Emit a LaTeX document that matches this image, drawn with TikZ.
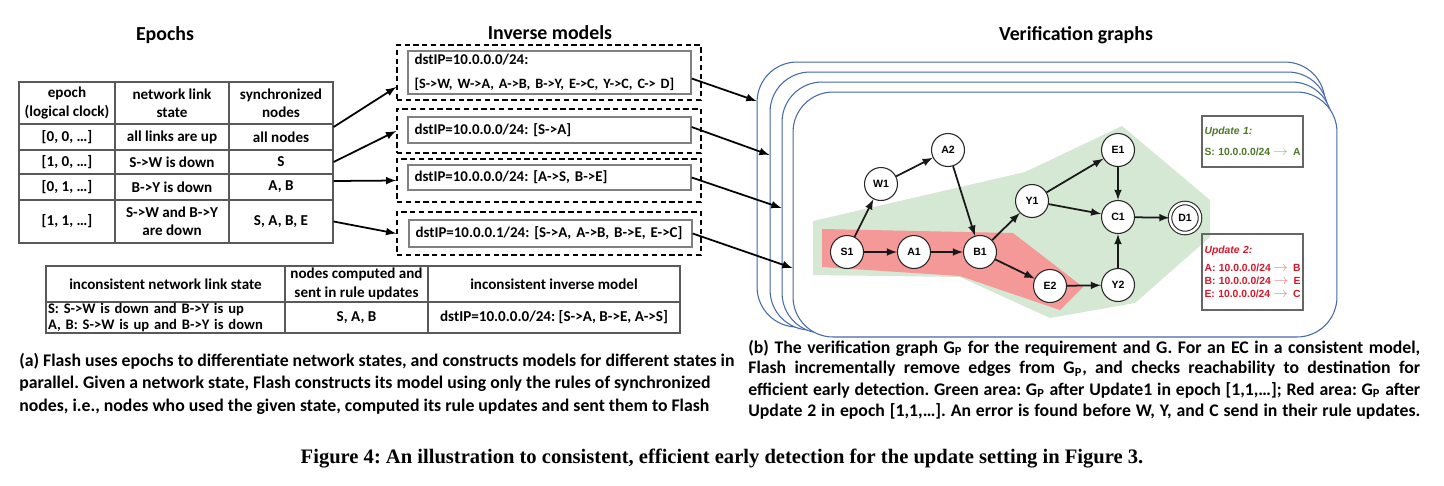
\documentclass[tikz,border=0pt]{standalone}
\usepackage{fontspec}
\setmainfont{Carlito}
\newfontfamily\grfont{Liberation Sans}
\newfontfamily\capfont{Liberation Serif}
\usepackage{xcolor}
\usetikzlibrary{shapes, positioning, calc}

\definecolor{stackblue}{RGB}{70,104,172}
\definecolor{areagreen}{RGB}{213,232,212}
\definecolor{areared}{RGB}{245,152,152}
\definecolor{updgreen}{RGB}{78,120,40}
\definecolor{updred}{RGB}{214,24,44}

\newcommand{\updline}[2]{\makebox[\linewidth][l]{#1\hfill{\color{.!50}\fontsize{8}{8}\selectfont$\rightarrow$}\hspace{1mm}#2}}

\begin{document}
\frenchspacing
\begin{tikzpicture}[x=0.02cm, y=-0.02cm, >=latex]
\tikzstyle{head}=[font=\fontsize{11.3}{13}\selectfont\bfseries]
\tikzstyle{cell}=[rectangle, draw=black!65, line width=0.7pt, inner sep=0pt, align=center, font=\fontsize{8.6}{10.4}\selectfont\bfseries]
\tikzstyle{dashbox}=[rectangle, draw, dashed, line width=0.9pt, dash pattern=on 3pt off 2pt, minimum width=6.08cm]
\tikzstyle{model}=[rectangle, draw=black!50, line width=0.8pt, inner xsep=0.13cm, inner ysep=0pt, text width=5.4cm, align=left, font=\fontsize{8.5}{10.3}\selectfont\bfseries]
\tikzstyle{link}=[->, line width=1pt]
\tikzstyle{stack}=[rectangle, draw=stackblue, line width=0.6pt, fill=white, rounded corners=0.8cm]
\tikzstyle{vert}=[circle, draw=black!85, line width=0.6pt, fill=white, minimum size=0.66cm, inner sep=0pt, font=\grfont\bfseries\fontsize{6}{6}\selectfont]
\tikzstyle{gedge}=[->, line width=1pt, black!90]
\tikzstyle{upd}=[rectangle, draw=black!60, line width=0.8pt, inner xsep=0.05cm, text width=1.92cm, align=left, font=\grfont\bfseries\fontsize{5.9}{7.4}\selectfont]
\tikzstyle{capt}=[anchor=west, inner sep=0pt, font=\fontsize{10.1}{12}\selectfont\bfseries]

\useasboundingbox (0,0) rectangle (1444,485);

% titles
\node[head] (th1) at (165,35) {Epochs};
\node[head] (th2) at (550,33) {Inverse models};
\node[head] (th3) at (1076,35) {Verification graphs};

% epoch table
\node[cell, minimum width=1.92cm, minimum height=0.84cm] (ep0) at (67,103) {epoch\\(logical clock)};
\node[cell, minimum width=2.28cm, minimum height=0.84cm] (ls0) at (172,103) {network link\\state};
\node[cell, minimum width=2.08cm, minimum height=0.84cm] (sn0) at (281,103) {synchronized\\nodes};
\node[cell, minimum width=1.92cm, minimum height=0.52cm] (ep1) at (67,137) {[0, 0, …]};
\node[cell, minimum width=2.28cm, minimum height=0.52cm] (ls1) at (172,137) {all links are up};
\node[cell, minimum width=2.08cm, minimum height=0.52cm] (sn1) at (281,137) {all nodes};
\node[cell, minimum width=1.92cm, minimum height=0.48cm] (ep2) at (67,162) {[1, 0, …]};
\node[cell, minimum width=2.28cm, minimum height=0.48cm] (ls2) at (172,162) {S->W is down};
\node[cell, minimum width=2.08cm, minimum height=0.48cm] (sn2) at (281,162) {S};
\node[cell, minimum width=1.92cm, minimum height=0.52cm] (ep3) at (67,187) {[0, 1, …]};
\node[cell, minimum width=2.28cm, minimum height=0.52cm] (ls3) at (172,187) {B->Y is down};
\node[cell, minimum width=2.08cm, minimum height=0.52cm] (sn3) at (281,187) {A, B};
\node[cell, minimum width=1.92cm, minimum height=0.86cm] (ep4) at (67,221.5) {[1, 1, …]};
\node[cell, minimum width=2.28cm, minimum height=0.86cm] (ls4) at (172,221.5) {S->W and B->Y\\are down};
\node[cell, minimum width=2.08cm, minimum height=0.86cm] (sn4) at (281,221.5) {S, A, B, E};

% inconsistent table
\node[cell, minimum width=4.78cm, minimum height=0.72cm] (ih) at (165.5,284) {inconsistent network link state};
\node[cell, minimum width=2.86cm, minimum height=0.72cm] (nh) at (356.5,284) {nodes computed and\\sent in rule updates};
\node[cell, minimum width=5.04cm, minimum height=0.72cm] (mh) at (554,284) {inconsistent inverse model};
\node[cell, minimum width=4.78cm, minimum height=0.62cm, text width=4.7cm, align=left, font=\fontsize{8.3}{9.2}\selectfont\bfseries] (ir) at (165.5,317.5) {S: S->W is down and B->Y is up\\A, B: S->W is up and B->Y is down};
\node[cell, minimum width=2.86cm, minimum height=0.62cm] (nr) at (356.5,317.5) {S, A, B};
\node[cell, minimum width=5.04cm, minimum height=0.62cm] (mr) at (554,317.5) {dstIP=10.0.0.0/24: [S->A, B->E, A->S]};

% inverse models
\node[dashbox, minimum height=1.1cm] (m1) at (549,72.5) {};
\node[dashbox, minimum height=0.88cm] (m2) at (549,131) {};
\node[dashbox, minimum height=0.86cm] (m3) at (549,180.5) {};
\node[dashbox, minimum height=0.86cm] (m4) at (549,233.5) {};
\node[model, minimum height=0.86cm] (r1) at (549.5,72.5) {dstIP=10.0.0.0/24:\\[3.3pt]\makebox[\linewidth][l]{\fontsize{8.1}{10}\selectfont [S->W, W->A, A->B, B->Y, E->C, Y->C, C-> D]}};
\node[model, minimum height=0.52cm] (r2) at (549.5,130) {dstIP=10.0.0.0/24: [S->A]};
\node[model, minimum height=0.5cm] (r3) at (549.5,177.5) {dstIP=10.0.0.0/24: [A->S, B->E]};
\node[model, minimum height=0.54cm] (r4) at (550.5,233.5) {dstIP=10.0.0.1/24: [S->A, A->B, B->E, E->C]};

\draw[link] ($(sn1.east)+(0,-10)$) -- ($(m1.west)+(0,14.5)$);
\draw[link] (sn2.east) -- (m2.west);
\draw[link] ($(sn3.east)+(0,-6)$) -- (m3.west);
\draw[link] (sn4.east) -- (m4.west);

% verification graphs
\node[stack, minimum width=11.36cm, minimum height=5.3cm] (g1) at (1041,194.5) {};
\node[stack, minimum width=11.16cm, minimum height=5.16cm] (g2) at (1049,201) {};
\node[stack, minimum width=11cm, minimum height=5.02cm] (g3) at (1057,207.5) {};
\node[stack, minimum width=10.88cm, minimum height=4.9cm] (g4) at (1065,214.5) {};

\draw[link] ($(r1.east)+(0,6)$) -- ($(g1.west)+(0,-93.5)$);
\draw[link] ($(r2.east)+(0,-3)$) -- ($(g2.west)+(0,-46)$);
\draw[link] (r3.east) -- ($(g3.west)+(0,0.5)$);
\draw[link] (r4.east) -- ($(g4.west)+(0,53.5)$);

\fill[areagreen] (813,221) -- (1025,172) -- (1122,126) -- (1210,200) -- (1210,237) -- (1135,303) -- (1050,318) -- (960,277) -- (813,275) -- cycle;
\fill[areared] (822,229) -- (1013,233) -- (1083,287) -- (1060,310) -- (960,276) -- (822,267) -- cycle;

\node[vert] (s1) at (847,252) {S1};
\node[vert] (a1) at (914,252) {A1};
\node[vert] (b1) at (980,252) {B1};
\node[vert] (w1) at (881,184) {W1};
\node[vert] (a2) at (948,150) {A2};
\node[vert] (y1) at (1032,201) {Y1};
\node[vert] (e2) at (1050,286) {E2};
\node[vert] (e1) at (1118,150) {E1};
\node[vert] (c1) at (1118,217) {C1};
\node[vert] (y2) at (1118,285) {Y2};
\node[vert, double, double distance=1.4pt, minimum size=0.6cm] (d1) at (1185,218) {D1};

\draw[gedge] (s1) -- (w1);
\draw[gedge] (w1) -- (a2);
\draw[gedge] (a2) -- (b1);
\draw[gedge] (s1) -- (a1);
\draw[gedge] (a1) -- (b1);
\draw[gedge] (b1) -- (y1);
\draw[gedge] (b1) -- (e2);
\draw[gedge] (y1) -- (e1);
\draw[gedge] (y1) -- (c1);
\draw[gedge] (e1) -- (c1);
\draw[gedge] (e2) -- (y2);
\draw[gedge] (y2) -- (c1);
\draw[gedge] (c1) -- (d1);

\node[upd, minimum height=1.02cm, text=updgreen] (u1) at (1252.5,141.5) {\textit{Update 1:}\\[4.6pt]\updline{S: 10.0.0.0/24}{A}};
\node[upd, minimum height=1.52cm, text=updred] (u2) at (1252.5,272) {\textit{Update 2:}\\[2.8pt]\updline{A: 10.0.0.0/24}{B}\\\updline{B: 10.0.0.0/24}{E}\\\updline{E: 10.0.0.0/24}{C}\\[9pt]};

% captions
\node[capt] (ca1) at (19,361) {(a) Flash uses epochs to differentiate network states, and constructs models for different states in};
\node[capt] (ca2) at (19,384) {parallel. Given a network state, Flash constructs its model using only the rules of synchronized};
\node[capt] (ca3) at (19,407) {nodes, i.e., nodes who used the given state, computed its rule updates and sent them to Flash};
\node[capt] (cb1) at (748,348) {\makebox[13.44cm][s]{(b) The verification graph G\textsubscript{P} for the requirement and G. For an EC in a consistent model,}};
\node[capt] (cb2) at (748,369) {\makebox[13.44cm][s]{Flash incrementally remove edges from G\textsubscript{P}, and checks reachability to destination for}};
\node[capt] (cb3) at (748,390) {\makebox[13.44cm][s]{efficient early detection. Green area: G\textsubscript{P} after Update1 in epoch [1,1,…]; Red area: G\textsubscript{P} after}};
\node[capt] (cb4) at (748,411) {\makebox[13.44cm][s]{Update 2 in epoch [1,1,…]. An error is found before W, Y, and C send in their rule updates.}};
\node[inner sep=0pt, font=\capfont\bfseries\fontsize{11.7}{13}\selectfont] (fig) at (722,459) {Figure 4: An illustration to consistent, efficient early detection for the update setting in Figure 3.};

\end{tikzpicture}
\end{document}
